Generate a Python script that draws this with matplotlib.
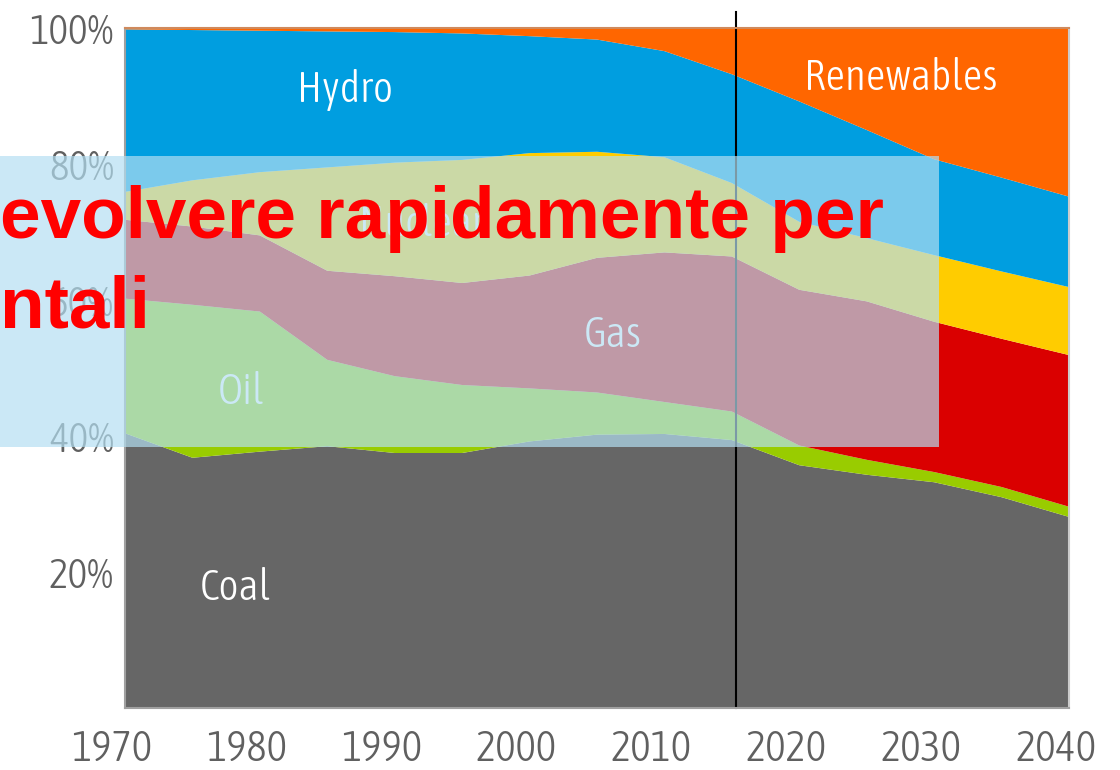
import matplotlib
matplotlib.use('Agg')
import matplotlib.pyplot as plt
from matplotlib import font_manager
from matplotlib.patches import Rectangle
from matplotlib.transforms import blended_transform_factory

# quota della generazione elettrica per fonte (%)
years = [1971, 1976, 1981, 1986, 1991, 1996, 2001, 2006, 2011, 2016,
         2021, 2026, 2031, 2036, 2041]
coal = [40.4, 36.8, 37.7, 38.5, 37.5, 37.5, 39.2, 40.2, 40.3, 39.4,
        35.7, 34.3, 33.2, 31.0, 28.1]
oil = [19.8, 22.5, 20.6, 12.7, 11.3, 10.0, 7.8, 6.2, 4.7, 4.2,
       2.9, 2.2, 1.5, 1.5, 1.5]
gas = [11.6, 11.5, 11.2, 13.1, 14.7, 15.0, 16.6, 19.8, 22.0, 22.8,
       22.9, 23.3, 22.1, 21.8, 22.3]
nuclear = [4.1, 6.8, 9.3, 15.2, 16.7, 18.1, 18.0, 15.6, 14.0, 10.8,
           10.0, 9.3, 9.8, 9.9, 10.0]
hydro = [23.9, 22.1, 20.8, 20.0, 19.2, 18.6, 17.2, 16.5, 15.6, 16.0,
         17.7, 15.9, 14.1, 13.8, 13.3]
renewables = [0.2, 0.3, 0.4, 0.5, 0.6, 0.8, 1.2, 1.7, 3.4, 6.8,
              10.8, 15.0, 19.3, 22.0, 24.8]

fuel_names = ['Coal', 'Oil', 'Gas', 'Nuclear', 'Hydro', 'Renewables']
fuel_colors = ['#666666', '#99cc00', '#da0000', '#ffcc00', '#009ee0', '#ff6600']

x_tick_years = [1970, 1980, 1990, 2000, 2010, 2020, 2030, 2040]
y_ticks = [20, 40, 60, 80, 100]
base_year = 2016.3

overlay_lines = ['evolvere rapidamente per', 'ntali']

# posizione delle etichette dentro le aree (anno, %)
label_pos = {
    'Coal': (1979.2, 17.6),
    'Oil': (1979.6, 46.5),
    'Gas': (2007.2, 54.9),
    'Nuclear': (1993.0, 71.2),
    'Hydro': (1987.3, 90.9),
    'Renewables': (2028.5, 92.6),
}


def weight_num(w):
    if isinstance(w, int):
        return w
    return {'light': 300, 'normal': 400, 'regular': 400, 'book': 400,
            'medium': 500, 'bold': 700}.get(str(w).lower(), 400)


# carattere stretto, dritto, il più leggero possibile tra 300 e 400
fonts = font_manager.fontManager.ttflist
narrow_list = [f for f in fonts
               if ('Narrow' in f.name or 'Condensed' in f.name
                   or f.stretch in ('condensed', 'semi-condensed'))
               and f.style == 'normal' and 300 <= weight_num(f.weight) <= 400]
narrow_list.sort(key=lambda f: weight_num(f.weight))
print([(f.name, f.weight, f.fname) for f in narrow_list])
if narrow_list:
    narrow_font = font_manager.FontProperties(fname=narrow_list[0].fname)
else:
    narrow_font = font_manager.FontProperties(family='DejaVu Sans')

fig = plt.figure(figsize=(11.2, 7.7), dpi=100)
ax = fig.add_axes([125 / 1120, 1 - 708 / 770, 944 / 1120, 680 / 770])

ax.stackplot(years, coal, oil, gas, nuclear, hydro, renewables,
             colors=fuel_colors, linewidth=0)
ax.set_xlim(1971, 2041)
ax.set_ylim(0, 100)

for name in fuel_names:
    lx, ly = label_pos[name]
    ax.text(lx, ly, name, color='white', fontproperties=narrow_font,
            fontsize=31, ha='center', va='center')

ax.axvline(base_year, ymin=0, ymax=1.024, color='black', lw=1.5, clip_on=False)

for side, col in [('left', '#a0a0a0'), ('bottom', '#a0a0a0'),
                  ('right', '#cccccc'), ('top', '#d08a5c')]:
    ax.spines[side].set_color(col)
    ax.spines[side].set_linewidth(1.5)

ax.set_xticks([])
ax.set_yticks(y_ticks)
ax.set_yticklabels(['%d%%' % v for v in y_ticks], fontproperties=narrow_font,
                   fontsize=30, color='#606060')
ax.tick_params(axis='y', length=0, pad=8)

trans = blended_transform_factory(ax.transData, ax.transAxes)
for yr in x_tick_years:
    ax.text(yr, -0.0603, str(yr), transform=trans, ha='center', va='center',
            fontproperties=narrow_font, fontsize=31, color='#606060',
            clip_on=False)

# riquadro azzurro semitrasparente con il testo rosso sopra
fig.add_artist(Rectangle((0, 1 - 447 / 770), 939 / 1120, 291 / 770,
                         transform=fig.transFigure, facecolor='#b4dff2',
                         alpha=0.69, edgecolor='none', zorder=5))
fig.text(0.0, 1 - 238 / 770, overlay_lines[0], color='red', fontsize=52.5,
         fontweight='bold', family='Liberation Sans', ha='left',
         va='baseline', zorder=10)
fig.text(0.0, 1 - 327 / 770, overlay_lines[1], color='red', fontsize=52.5,
         fontweight='bold', family='Liberation Sans', ha='left',
         va='baseline', zorder=10)

fig.savefig('out.png', dpi=100)
